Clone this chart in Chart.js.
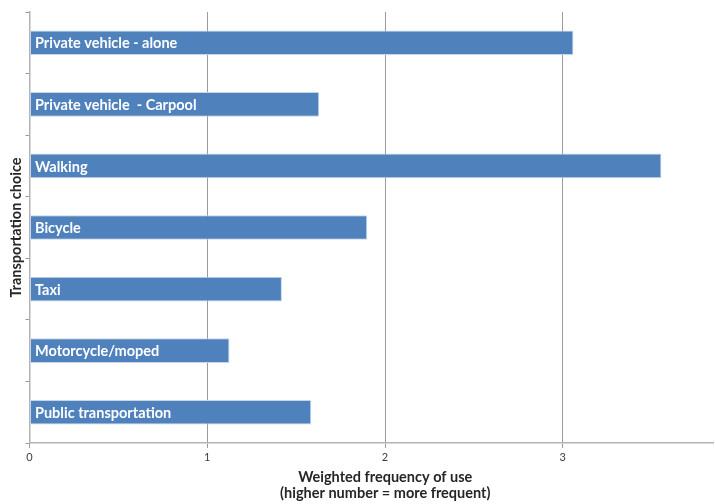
<!DOCTYPE html>
<html>
<head>
<meta charset="utf-8">
<script src="https://cdn.jsdelivr.net/npm/chart.js@4.4.0/dist/chart.umd.min.js"></script>
<style>
    html, body { margin: 0; padding: 0; background: #fff; }
    #wrap { width: 715px; height: 504px; }
</style>
</head>
<body>
<div id="wrap"><canvas id="chart"></canvas></div>
<script>
// --- Data ---
const categories = [
    'Private vehicle - alone',
    'Private vehicle  - Carpool',
    'Walking',
    'Bicycle',
    'Taxi',
    'Motorcycle/moped',
    'Public transportation'
];
const frequency = [3.06, 1.63, 3.555, 1.90, 1.42, 1.125, 1.585];
const xTicks = [0, 1, 2, 3];
const xTitle = ['Weighted frequency of use', '(higher number = more frequent)'];
const yTitle = 'Transportation choice';

// --- Labels drawn inside the bars ---
const barLabels = {
    id: 'barLabels',
    afterDatasetsDraw(chart) {
        const ctx = chart.ctx;
        const meta = chart.getDatasetMeta(0);
        ctx.save();
        ctx.fillStyle = '#ffffff';
        ctx.font = 'bold 14.5px Lato';
        ctx.textAlign = 'left';
        ctx.textBaseline = 'middle';
        meta.data.forEach((bar, i) => {
            ctx.fillText(categories[i], bar.base + 5, bar.y + 1);
        });
        ctx.restore();
    }
};

// --- X axis title (Excel puts it a bit right of the plot centre) ---
const xAxisTitle = {
    id: 'xAxisTitle',
    afterDraw(chart) {
        const ctx = chart.ctx;
        const x = chart.scales.x;
        const cx = (x.left + x.right) / 2 + 14;
        ctx.save();
        ctx.fillStyle = '#262626';
        ctx.font = 'bold 14.5px Lato';
        ctx.textAlign = 'center';
        ctx.textBaseline = 'middle';
        xTitle.forEach((line, i) => ctx.fillText(line, cx, 477 + i * 16.5));
        ctx.restore();
    }
};

new Chart(document.getElementById('chart'), {
    type: 'bar',
    data: {
        labels: categories,
        datasets: [{
            data: frequency,
            backgroundColor: '#4f81bd',
            borderColor: '#c6d5ea',
            borderWidth: 1,
            borderSkipped: false,
            categoryPercentage: 1,
            barPercentage: 0.4
        }]
    },
    options: {
        indexAxis: 'y',
        responsive: true,
        maintainAspectRatio: false,
        animation: false,
        layout: { padding: { top: 12, right: 2, left: 0, bottom: 0 } },
        plugins: {
            legend: { display: false },
            tooltip: { enabled: false }
        },
        scales: {
            x: {
                min: 0,
                max: 3.845,
                afterBuildTicks: scale => {
                    scale.ticks = xTicks.map(v => ({ value: v }));
                },
                afterFit: scale => { scale.height = 61; },
                grid: {
                    color: ctx => ctx.tick && ctx.tick.value === 0 ? 'rgba(0,0,0,0)' : '#9a9a9a',
                    tickColor: '#9a9a9a',
                    tickLength: 5,
                    drawTicks: true
                },
                border: { color: '#b4b4b4', width: 1.5 },
                ticks: {
                    color: '#404040',
                    font: { family: 'Lato', size: 11 },
                    padding: 3,
                    maxRotation: 0
                }
            },
            y: {
                offset: true,
                afterFit: scale => { scale.width = 29.5; },
                grid: {
                    offset: true,
                    drawOnChartArea: false,
                    tickColor: '#9a9a9a',
                    tickLength: 4
                },
                border: { color: '#b4b4b4', width: 1.5 },
                ticks: { display: false },
                title: {
                    display: true,
                    text: yTitle,
                    color: '#262626',
                    font: { family: 'Lato', size: 14.5, weight: 'bold' },
                    padding: { top: 8, bottom: 0 }
                }
            }
        }
    },
    plugins: [barLabels, xAxisTitle]
});
</script>
</body>
</html>
